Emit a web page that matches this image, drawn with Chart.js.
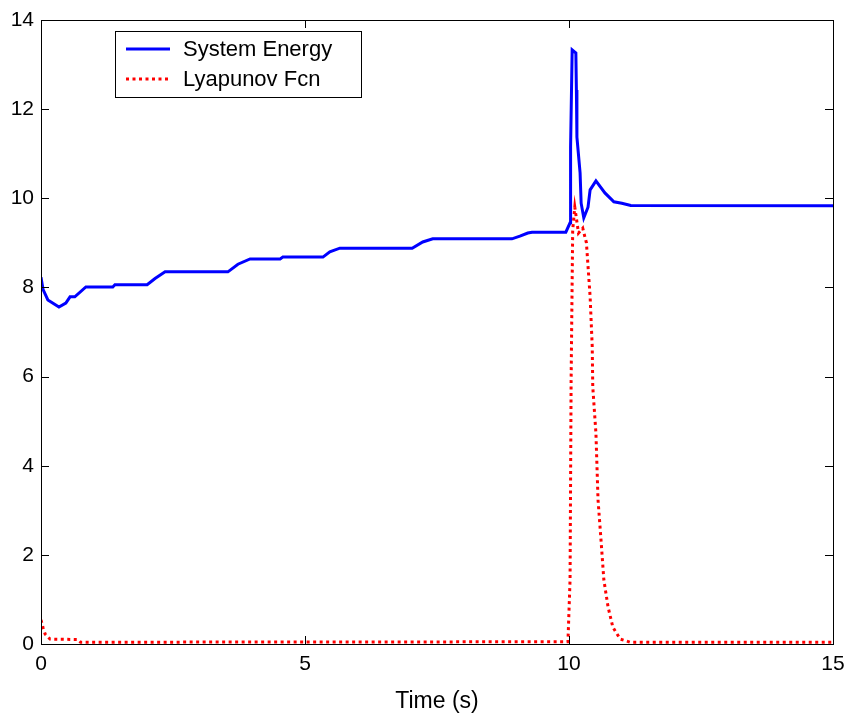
<!DOCTYPE html>
<html>
<head>
<meta charset="utf-8">
<script src="https://cdn.jsdelivr.net/npm/chart.js@4.4.1/dist/chart.umd.min.js"></script>
<style>
  html, body { margin: 0; padding: 0; background: #ffffff; }
  #wrap { width: 850px; height: 715px; }
</style>
</head>
<body>
<div id="wrap"><canvas id="c" width="850" height="715"></canvas></div>
<script>
// ---- data ----
const seriesNames = ["System Energy", "Lyapunov Fcn"];
const xTicks = [0, 5, 10, 15];
const yTicks = [0, 2, 4, 6, 8, 10, 12, 14];
const xAxisTitle = "Time (s)";

const energyT = [0, 0.04, 0.13, 0.34, 0.47, 0.55, 0.64, 0.85, 1.36, 1.40, 2.01, 2.16, 2.35, 3.54, 3.73, 3.96, 4.53, 4.58, 5.34, 5.47, 5.66, 7.03, 7.23, 7.42, 8.92, 9.07, 9.22, 9.30, 9.94, 10.02, 10.03, 10.06, 10.13, 10.14, 10.15, 10.21, 10.23, 10.28, 10.36, 10.40, 10.51, 10.68, 10.85, 11.00, 11.17, 15];
const energyV = [8.23, 7.95, 7.72, 7.56, 7.65, 7.79, 7.79, 8.01, 8.01, 8.06, 8.06, 8.20, 8.35, 8.35, 8.52, 8.64, 8.64, 8.68, 8.68, 8.80, 8.88, 8.88, 9.02, 9.09, 9.09, 9.15, 9.22, 9.24, 9.24, 9.45, 11.15, 13.33, 13.26, 12.43, 11.37, 10.57, 9.89, 9.56, 9.80, 10.19, 10.39, 10.12, 9.92, 9.89, 9.84, 9.83];

const lyapT = [0, 0.04, 0.08, 0.17, 0.70, 0.75, 9.98, 10.02, 10.04, 10.06, 10.07, 10.11, 10.18, 10.26, 10.33, 10.40, 10.44, 10.45, 10.51, 10.55, 10.61, 10.66, 10.74, 10.83, 10.97, 11.16, 15];
const lyapV = [0.54, 0.36, 0.22, 0.11, 0.10, 0.04, 0.05, 1.44, 5.90, 8.17, 9.29, 9.80, 9.22, 9.33, 9.00, 7.79, 6.67, 5.77, 4.73, 3.23, 2.27, 1.44, 0.83, 0.38, 0.11, 0.04, 0.04];

const toPoints = (xs, ys) => xs.map((x, i) => ({ x: x, y: ys[i] }));

const FONT = "'Liberation Sans', Arial, Helvetica, sans-serif";

const matlabFrame = {
  id: 'matlabFrame',
  afterDraw(chart) {
    const ctx = chart.ctx;
    const a = chart.chartArea;
    const xs = chart.scales.x, ys = chart.scales.y;
    const L = 8;
    ctx.save();
    ctx.strokeStyle = '#000000';
    ctx.lineWidth = 1;
    ctx.beginPath();
    xTicks.forEach(v => {
      const p = Math.round(xs.getPixelForValue(v)) + 0.5;
      ctx.moveTo(p, a.bottom); ctx.lineTo(p, a.bottom - L);
      ctx.moveTo(p, a.top); ctx.lineTo(p, a.top + L);
    });
    yTicks.forEach(v => {
      const p = Math.round(ys.getPixelForValue(v)) + 0.5;
      ctx.moveTo(a.left, p); ctx.lineTo(a.left + L, p);
      ctx.moveTo(a.right, p); ctx.lineTo(a.right - L, p);
    });
    ctx.stroke();
    ctx.strokeRect(Math.round(a.left) + 0.5, Math.round(a.top) + 0.5,
                   Math.round(a.right - a.left), Math.round(a.bottom - a.top));

    // legend box
    const bx = 115.5, by = 31.5, bw = 246, bh = 66;
    ctx.fillStyle = '#ffffff';
    ctx.fillRect(bx, by, bw, bh);
    ctx.strokeRect(bx, by, bw, bh);
    const ds = chart.data.datasets;
    const rows = [49, 79];
    ds.forEach((d, i) => {
      ctx.save();
      ctx.strokeStyle = d.borderColor;
      ctx.lineWidth = d.borderWidth;
      ctx.setLineDash(d.borderDash || []);
      ctx.beginPath();
      ctx.moveTo(126, rows[i]); ctx.lineTo(170, rows[i]);
      ctx.stroke();
      ctx.restore();
      ctx.fillStyle = '#000000';
      ctx.font = "22px " + FONT;
      ctx.textBaseline = 'middle';
      ctx.textAlign = 'left';
      ctx.fillText(d.label, 183, rows[i] + 1);
    });
    ctx.restore();
  }
};

new Chart(document.getElementById('c'), {
  type: 'scatter',
  data: {
    datasets: [
      {
        label: seriesNames[0],
        data: toPoints(energyT, energyV),
        showLine: true,
        borderColor: '#0000ff',
        backgroundColor: '#0000ff',
        borderWidth: 3,
        pointRadius: 0,
        tension: 0
      },
      {
        label: seriesNames[1],
        data: toPoints(lyapT, lyapV),
        showLine: true,
        borderColor: '#ff0000',
        backgroundColor: '#ff0000',
        borderWidth: 3,
        borderDash: [3, 3.5],
        pointRadius: 0,
        tension: 0
      }
    ]
  },
  options: {
    responsive: false,
    animation: false,
    devicePixelRatio: 1,
    layout: { padding: { left: 0, right: 17, top: 20, bottom: 0 } },
    plugins: { legend: { display: false }, tooltip: { enabled: false } },
    scales: {
      x: {
        type: 'linear',
        min: 0, max: 15,
        afterBuildTicks: s => { s.ticks = xTicks.map(v => ({ value: v })); },
        afterFit: s => { s.height = 71; s.paddingRight = 0; },
        grid: { display: false, drawTicks: false },
        border: { display: false },
        ticks: { color: '#000', font: { family: FONT, size: 21 }, padding: 8, maxRotation: 0 },
        title: { display: true, text: xAxisTitle, color: '#000', font: { family: FONT, size: 23 }, padding: { top: 2, bottom: 0 } }
      },
      y: {
        type: 'linear',
        min: 0, max: 14,
        afterBuildTicks: s => { s.ticks = yTicks.map(v => ({ value: v })); },
        afterFit: s => { s.width = 41; },
        grid: { display: false, drawTicks: false },
        border: { display: false },
        ticks: { color: '#000', font: { family: FONT, size: 21 }, padding: 7 }
      }
    }
  },
  plugins: [matlabFrame]
});
</script>
</body>
</html>
